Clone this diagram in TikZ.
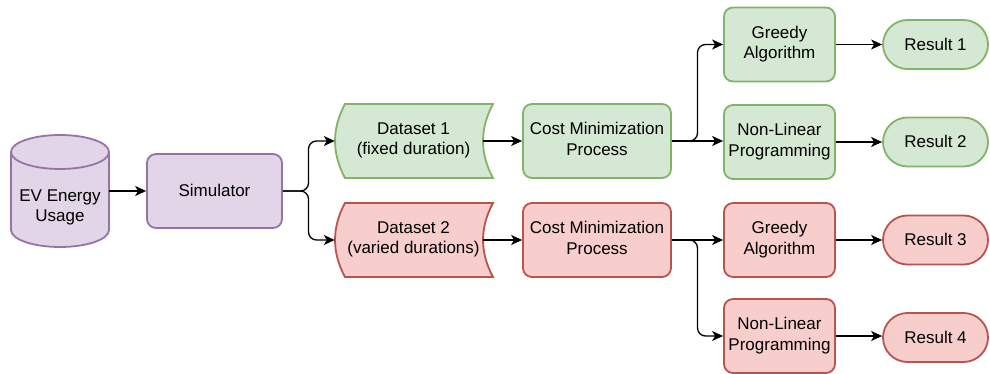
\documentclass[tikz,border=0pt]{standalone}
\usepackage{fontspec}
\setmainfont{Liberation Sans}
\usetikzlibrary{arrows.meta}
\definecolor{gfill}{HTML}{D5E8D4}
\definecolor{gline}{HTML}{82B366}
\definecolor{rfill}{HTML}{F8CECC}
\definecolor{rline}{HTML}{B85450}
\definecolor{pfill}{HTML}{E1D5E7}
\definecolor{pline}{HTML}{9673A6}
\newcommand{\linestrut}{\rule[-4.3pt]{0pt}{20.4pt}}
\begin{document}
\begin{tikzpicture}[x=1pt,y=-1pt,
  txt/.style={font=\fontsize{17}{20.4}\selectfont,align=center,inner sep=0pt,
    execute at begin node=\linestrut,execute at end node=\linestrut},
  box/.style={txt,rectangle,rounded corners=9pt,line width=1.8pt,minimum height=74pt},
  term/.style={txt,rectangle,rounded corners=24.5pt,line width=1.8pt,minimum width=105pt,minimum height=49pt},
  gbox/.style={draw=gline,fill=gfill},
  rbox/.style={draw=rline,fill=rfill},
  pbox/.style={draw=pline,fill=pfill},
  link/.style={line width=1.3pt,rounded corners=8pt,-{Stealth[length=11pt,width=10pt,inset=3pt]}}]
  \useasboundingbox (0,0) rectangle (990,374);

  \filldraw[pbox,line width=1.8pt] (11,152) -- (11,230) arc[start angle=180,end angle=360,x radius=49pt,y radius=17pt]
    -- (109,152) arc[start angle=0,end angle=180,x radius=49pt,y radius=17pt] -- cycle;
  \draw[pline,line width=1.8pt] (11,152) arc[start angle=180,end angle=360,x radius=49pt,y radius=17pt];
  \node[txt,minimum width=98pt] (ev) at (60,208) {EV Energy\\Usage};

  \node[box,pbox,minimum width=135pt] (sim) at (214.5,191) {Simulator};

  \filldraw[gbox,line width=1.8pt] (345,104) -- (493,104) .. controls (479.7,128.7) and (479.7,153.3) .. (493,178)
    -- (345,178) .. controls (331.7,153.3) and (331.7,128.7) .. cycle;
  \node[txt,minimum width=148pt,minimum height=74pt] (ds1) at (409,141) {\hspace*{9pt}Dataset 1\\\hspace*{9pt}(fixed duration)};
  \filldraw[rbox,line width=1.8pt] (345,203) -- (493,203) .. controls (479.7,227.7) and (479.7,252.3) .. (493,277)
    -- (345,277) .. controls (331.7,252.3) and (331.7,227.7) .. cycle;
  \node[txt,minimum width=148pt,minimum height=74pt] (ds2) at (409,240) {\hspace*{9pt}Dataset 2\\\hspace*{9pt}(varied durations)};

  \node[box,gbox,minimum width=148pt] (cm1) at (597,141) {Cost Minimization\\Process};
  \node[box,rbox,minimum width=148pt] (cm2) at (597,240) {Cost Minimization\\Process};

  \node[box,gbox,minimum width=111pt] (gr1) at (779.5,44.5) {Greedy\\Algorithm};
  \node[box,gbox,minimum width=111pt] (nl1) at (779.5,142) {Non-Linear\\Programming};
  \node[box,rbox,minimum width=111pt] (gr2) at (779.5,240) {Greedy\\Algorithm};
  \node[box,rbox,minimum width=111pt] (nl2) at (779.5,336) {Non-Linear\\Programming};

  \node[term,gbox] (res1) at (935.5,44.5) {Result 1};
  \node[term,gbox] (res2) at (935.5,142) {Result 2};
  \node[term,rbox] (res3) at (935.5,240) {Result 3};
  \node[term,rbox] (res4) at (935.5,337.5) {Result 4};

  \coordinate (fork1) at (308.5,191);
  \coordinate (fork2) at (697.5,141);
  \coordinate (fork3) at (697.5,240);

  \draw[link] (ev.east |- sim.west) -- (sim.west);
  \draw[link] (sim.east) -- (fork1) |- (ds1.west);
  \draw[link] (sim.east) -- (fork1) |- (ds2.west);
  \draw[link] (ds1.east) -- (cm1.west);
  \draw[link] (ds2.east) -- (cm2.west);
  \draw[link] (cm1.east) -- (fork2) |- (gr1.west);
  \draw[link] (cm1.east) -- (nl1.west |- cm1.east);
  \draw[link] (cm2.east) -- (gr2.west);
  \draw[link] (cm2.east) -- (fork3) |- (nl2.west);
  \draw[link] (gr1.east) -- (res1.west);
  \draw[link] (nl1.east) -- (res2.west);
  \draw[link] (gr2.east) -- (res3.west);
  \draw[link] (nl2.east) -- (res4.west |- nl2.east);
\end{tikzpicture}
\end{document}
